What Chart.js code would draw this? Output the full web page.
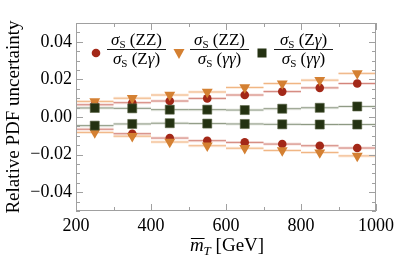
<!DOCTYPE html>
<html>
<head>
<meta charset="utf-8">
<script src="https://cdn.jsdelivr.net/npm/chart.js@4"></script>
<style>
html, body { margin: 0; padding: 0; background: #fff; }
#wrap { width: 398px; height: 261px; }
</style>
</head>
<body>
<div id="wrap"><canvas id="myChart"></canvas></div>
<script>
// bin centres (GeV), bins are 100 GeV wide
const mT = [250, 350, 450, 550, 650, 750, 850, 950];
const binWidth = 100;

// sigma_S(ZZ)/sigma_S(Zgamma)
const zzZgUp = [0.0065, 0.0076, 0.0085, 0.0099, 0.0117, 0.0135, 0.0155, 0.0178];
const zzZgDn = [-0.0065, -0.0089, -0.0112, -0.0126, -0.0135, -0.0144, -0.0153, -0.0165];
// sigma_S(ZZ)/sigma_S(gammagamma)
const zzGgUp = [0.0083, 0.0100, 0.0117, 0.0133, 0.0157, 0.0178, 0.0196, 0.0232];
const zzGgDn = [-0.0082, -0.0102, -0.0133, -0.0153, -0.0166, -0.0178, -0.0189, -0.0207];
// sigma_S(Zgamma)/sigma_S(gammagamma)
const zgGgUp = [0.0048, 0.0046, 0.0039, 0.0039, 0.0037, 0.0044, 0.0049, 0.0056];
const zgGgDn = [-0.0046, -0.0037, -0.0033, -0.0035, -0.0037, -0.0039, -0.0040, -0.0040];

const yTicks = [-0.04, -0.02, 0, 0.02, 0.04];
const xTicks = [200, 400, 600, 800, 1000];

const serif = '"Liberation Serif", "DejaVu Serif", serif';

const red = 'rgb(163, 40, 24)';
const orange = 'rgb(212, 128, 50)';
const green = 'rgb(36, 50, 18)';

// points for a marker series
function pts(vals) {
    return mT.map((x, i) => ({ x: x, y: vals[i] }));
}

// horizontal segment across each bin, with gaps between bins
function steps(vals) {
    const out = [];
    mT.forEach((x, i) => {
        out.push({ x: x - binWidth / 2, y: vals[i] });
        out.push({ x: x + binWidth / 2, y: vals[i] });
        out.push({ x: x + binWidth / 2, y: null });
    });
    return out;
}

function stepSet(vals, color, width) {
    return {
        type: 'line',
        data: steps(vals),
        borderColor: color,
        borderWidth: width,
        pointRadius: 0,
        spanGaps: false,
        order: width > 2 ? 20 : 10
    };
}

const datasets = [
    stepSet(zzZgUp, 'rgba(225, 160, 150, 0.3)', 3),
    stepSet(zzZgDn, 'rgba(225, 160, 150, 0.3)', 3),
    stepSet(zzGgUp, 'rgba(245, 200, 160, 0.35)', 3),
    stepSet(zzGgDn, 'rgba(245, 200, 160, 0.35)', 3),
    stepSet(zgGgUp, 'rgba(195, 200, 185, 0.35)', 3),
    stepSet(zgGgDn, 'rgba(195, 200, 185, 0.35)', 3),
    stepSet(zzZgUp, 'rgb(210, 130, 120)', 1),
    stepSet(zzZgDn, 'rgb(210, 130, 120)', 1),
    stepSet(zzGgUp, 'rgb(240, 180, 130)', 1),
    stepSet(zzGgDn, 'rgb(240, 180, 130)', 1),
    stepSet(zgGgUp, 'rgb(140, 152, 130)', 1),
    stepSet(zgGgDn, 'rgb(140, 152, 130)', 1),
    {
        type: 'scatter',
        data: pts(zzZgUp).concat(pts(zzZgDn)),
        pointStyle: 'circle',
        pointRadius: 4.3,
        backgroundColor: red,
        borderColor: red,
        borderWidth: 0,
        order: 3
    },
    {
        type: 'scatter',
        data: pts(zzGgUp).concat(pts(zzGgDn)),
        pointStyle: 'triangle',
        pointRotation: 180,
        pointRadius: 6.3,
        backgroundColor: orange,
        borderColor: orange,
        borderWidth: 0,
        order: 2
    },
    {
        type: 'scatter',
        data: pts(zgGgUp).concat(pts(zgGgDn)),
        pointStyle: 'rect',
        pointRadius: 6.4,
        backgroundColor: green,
        borderColor: 'rgb(90, 100, 70)',
        borderWidth: 0.6,
        order: 1
    }
];

// draw a row of text runs centred on cx
function drawRuns(ctx, runs, cx, y) {
    let total = 0;
    runs.forEach(r => { ctx.font = r.font; total += ctx.measureText(r.t).width; });
    let x = cx - total / 2;
    runs.forEach(r => {
        ctx.font = r.font;
        ctx.fillText(r.t, x, y + (r.dy || 0));
        x += ctx.measureText(r.t).width;
    });
}

const it = 'italic 17px ' + serif;
const up = '17px ' + serif;
const sub = '11px ' + serif;

function frac(ctx, cx, num, den) {
    ctx.fillStyle = '#000';
    ctx.textBaseline = 'alphabetic';
    drawRuns(ctx, num, cx, 45);
    drawRuns(ctx, den, cx, 64);
    ctx.strokeStyle = '#000';
    ctx.lineWidth = 0.9;
    ctx.beginPath();
    ctx.moveTo(cx - 29.5, 49.5);
    ctx.lineTo(cx + 29.5, 49.5);
    ctx.stroke();
}

const sigS = [{ t: 'σ', font: it }, { t: 'S', font: sub, dy: 3 }];

const framePlugin = {
    id: 'frame',
    afterDatasetsDraw(chart) {
        const ctx = chart.ctx;
        const a = chart.chartArea;
        const xs = chart.scales.x;
        const ys = chart.scales.y;
        ctx.save();
        ctx.strokeStyle = 'rgb(160, 160, 160)';
        ctx.lineWidth = 1;
        ctx.strokeRect(a.left + 0.5, a.top + 0.5, a.right - a.left - 1, a.bottom - a.top - 1);
        ctx.beginPath();
        // y ticks every 0.005, longer at 0.02
        for (let k = -10; k <= 10; k++) {
            const v = k * 0.005;
            const py = Math.round(ys.getPixelForValue(v)) + 0.5;
            const len = (k % 4 === 0) ? 7 : 4;
            ctx.moveTo(a.left, py); ctx.lineTo(a.left + len, py);
            ctx.moveTo(a.right, py); ctx.lineTo(a.right - len, py);
        }
        // x ticks every 100, longer at 200
        for (let v = 200; v <= 1000; v += 100) {
            const px = Math.round(xs.getPixelForValue(v)) + 0.5;
            const len = (v % 200 === 0) ? 7 : 4;
            ctx.moveTo(px, a.bottom); ctx.lineTo(px, a.bottom - len);
            ctx.moveTo(px, a.top); ctx.lineTo(px, a.top + len);
        }
        ctx.stroke();

        // legend
        ctx.fillStyle = red;
        ctx.beginPath(); ctx.arc(96, 53, 4.3, 0, Math.PI * 2); ctx.fill();
        ctx.fillStyle = orange;
        ctx.beginPath(); ctx.moveTo(173.5, 49); ctx.lineTo(184.5, 49); ctx.lineTo(179, 59); ctx.closePath(); ctx.fill();
        ctx.fillStyle = green;
        ctx.fillRect(257.5, 48.5, 9, 9);

        frac(ctx, 136.5,
            sigS.concat([{ t: ' (ZZ)', font: up }]),
            sigS.concat([{ t: ' (Z', font: up }, { t: 'γ', font: it }, { t: ')', font: up }]));
        frac(ctx, 219.5,
            sigS.concat([{ t: ' (ZZ)', font: up }]),
            sigS.concat([{ t: ' (', font: up }, { t: 'γγ', font: it }, { t: ')', font: up }]));
        frac(ctx, 303.5,
            sigS.concat([{ t: ' (Z', font: up }, { t: 'γ', font: it }, { t: ')', font: up }]),
            sigS.concat([{ t: ' (', font: up }, { t: 'γγ', font: it }, { t: ')', font: up }]));

        // axis titles
        ctx.fillStyle = '#000';
        ctx.font = '19px ' + serif;
        ctx.textAlign = 'center';
        ctx.textBaseline = 'middle';
        ctx.save();
        ctx.translate(14, 117);
        ctx.rotate(-Math.PI / 2);
        ctx.fillText('Relative PDF uncertainty', 0, 0);
        ctx.restore();

        ctx.textAlign = 'left';
        ctx.textBaseline = 'alphabetic';
        const mFont = 'italic 19px ' + serif;
        const sFont = 'italic 13px ' + serif;
        const rest = ' [GeV]';
        ctx.font = mFont; const wm = ctx.measureText('m').width;
        ctx.font = sFont; const wt = ctx.measureText('T').width;
        ctx.font = '19px ' + serif; const wr = ctx.measureText(rest).width;
        let x0 = 227 - (wm + wt + wr) / 2;
        const base = 251;
        ctx.font = mFont; ctx.fillText('m', x0, base);
        ctx.strokeStyle = '#000';
        ctx.lineWidth = 1;
        ctx.beginPath(); ctx.moveTo(x0 + 1, base - 12.5); ctx.lineTo(x0 + wm + 1, base - 12.5); ctx.stroke();
        ctx.font = sFont; ctx.fillText('T', x0 + wm, base + 4);
        ctx.font = '19px ' + serif; ctx.fillText(rest, x0 + wm + wt, base);
        ctx.restore();
    }
};

const myChart = new Chart(document.getElementById('myChart').getContext('2d'), {
    type: 'scatter',
    data: { datasets: datasets },
    options: {
        responsive: true,
        maintainAspectRatio: false,
        animation: false,
        events: [],
        layout: { padding: { top: 23, right: 20, left: 0, bottom: 0 } },
        plugins: { legend: { display: false }, tooltip: { enabled: false } },
        scales: {
            x: {
                type: 'linear',
                min: 200,
                max: 1000,
                afterBuildTicks: s => { s.ticks = xTicks.map(v => ({ value: v })); },
                afterFit: s => { s.height = 50; },
                grid: { display: false, drawTicks: false },
                border: { display: false },
                ticks: {
                    color: '#000',
                    padding: 4,
                    maxRotation: 0,
                    font: { family: serif, size: 18 },
                    callback: v => String(v)
                }
            },
            y: {
                min: -0.05,
                max: 0.05,
                afterBuildTicks: s => { s.ticks = yTicks.map(v => ({ value: v })); },
                afterFit: s => { s.width = 76; },
                grid: { display: false, drawTicks: false },
                border: { display: false },
                ticks: {
                    color: '#000',
                    padding: 4,
                    font: { family: serif, size: 18 },
                    callback: v => v.toFixed(2).replace('-', '\u2212')
                }
            }
        }
    },
    plugins: [framePlugin]
});
</script>
</body>
</html>
